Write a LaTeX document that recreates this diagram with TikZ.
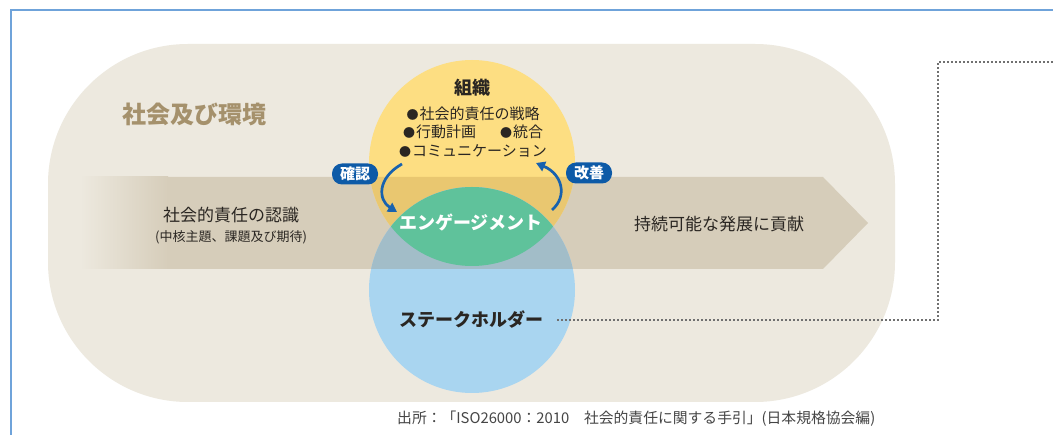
\documentclass[tikz,border=0pt]{standalone}
\usepackage{fontspec}
\setmainfont{Noto Sans CJK JP}
\usetikzlibrary{arrows.meta}
\definecolor{framec}{HTML}{6FA3DA}
\definecolor{bgc}{HTML}{EDE9DF}
\definecolor{bandc}{HTML}{D6CDBA}
\definecolor{yel}{HTML}{FDDE82}
\definecolor{yelband}{HTML}{E9C770}
\definecolor{blu}{HTML}{A9D5F0}
\definecolor{bluband}{HTML}{A2BDC8}
\definecolor{grn}{HTML}{5FC29B}
\definecolor{titlec}{HTML}{A5916C}
\definecolor{txt}{HTML}{2A2622}
\definecolor{footc}{HTML}{454545}
\definecolor{dotc}{HTML}{707070}
\definecolor{badgec}{HTML}{0D5AA7}
\definecolor{arrc}{HTML}{1862AE}
\newcommand\fsz[2]{\fontsize{#1pt}{#2pt}\selectfont}
\newcommand\bul{{\fsz{12}{12}●}\hspace{1pt}}
\tikzset{
  badge/.style={fill=badgec,text=white,rounded corners=10pt,minimum width=46pt,minimum height=21pt,inner sep=0pt,font=\fsz{15}{15}\bfseries},
  cyc/.style={draw=arrc,line width=2.7pt,-{Triangle[length=9pt,width=10pt]}},
  dotline/.style={draw=dotc,line width=1.8pt,dash pattern=on 1.6pt off 2.4pt},
  lbl/.style={text=txt,inner sep=0pt}
}
\begin{document}
\begin{tikzpicture}[x=1pt,y=-1pt]
\useasboundingbox (0,0) rectangle (1053,435);
\fill[white] (0,0) rectangle (1053,435);
% frame
\draw[framec,line width=1.6pt] (11,435) -- (11,10) -- (1053,10);
% environment
\fill[bgc,rounded corners=140pt] (48,44) rectangle (895,402);
% band arrow
\def\bandpath{(80,177) -- (823,177) -- (868,223) -- (823,269) -- (80,269) -- cycle}
\fill[bandc] \bandpath;
\shade[left color=bgc,right color=bandc] (80,177) rectangle (168,269);
% circles
\coordinate (yc) at (472,163);
\coordinate (bc) at (472,290);
\fill[yel] (yc) circle (103pt);
\begin{scope}
  \clip (yc) circle (103pt);
  \fill[yelband] \bandpath;
\end{scope}
\fill[blu] (bc) circle (103pt);
\begin{scope}
  \clip (bc) circle (103pt);
  \fill[bluband] \bandpath;
\end{scope}
\begin{scope}
  \clip (yc) circle (103pt);
  \fill[grn] (bc) circle (103pt);
\end{scope}
% texts
\node[text=titlec,inner sep=0pt,font=\fsz{24}{24}\bfseries] (env) at (194,114) {社会及び環境};
\node[lbl,font=\fsz{18}{18}\bfseries] (org) at (472,88) {組織};
\node[lbl,align=center,font=\fsz{15}{18.5}] (items) at (473,132) {\bul 社会的責任の戦略\\\bul 行動計画\hspace{1.6em}\bul 統合\\\bul コミュニケーション};
\node[text=white,inner sep=0pt,font=\fsz{18}{18}\bfseries] (eng) at (471,223) {エンゲージメント};
\node[lbl,font=\fsz{18}{18}\bfseries] (sh) at (471,320) {ステークホルダー};
\node[lbl,font=\fsz{17}{17}] (rec) at (231,215) {社会的責任の認識};
\node[lbl,font=\fsz{13}{13}] (rec2) at (231,237) {(中核主題、課題及び期待)};
\node[lbl,font=\fsz{17}{17}] (sus) at (719,224) {持続可能な発展に貢献};
\node[badge] (kakunin) at (355,174) {確認};
\node[badge] (kaizen) at (589,173) {改善};
\node[text=footc,inner sep=0pt,anchor=west,font=\fsz{14.8}{14.8}] (src) at (397,419) {出所：「ISO26000：2010　社会的責任に関する手引」(日本規格協会編)};
% cycle arrows
\coordinate (a1s) at (402,164);
\coordinate (a1e) at (397,212);
\coordinate (a2s) at (552,210);
\coordinate (a2e) at (536,163);
\draw[cyc] (a1s) .. controls (377,178) and (378,200) .. (a1e);
\draw[cyc] (a2s) .. controls (568,196) and (562,174) .. (a2e);
% dotted connector
\coordinate (c1) at (938,320);
\coordinate (c2) at (938,62);
\coordinate (c3) at (1053,62);
\draw[dotline] ([xshift=14pt]sh.east) -- (c1) -- (c2) -- (c3);
\end{tikzpicture}
\end{document}
